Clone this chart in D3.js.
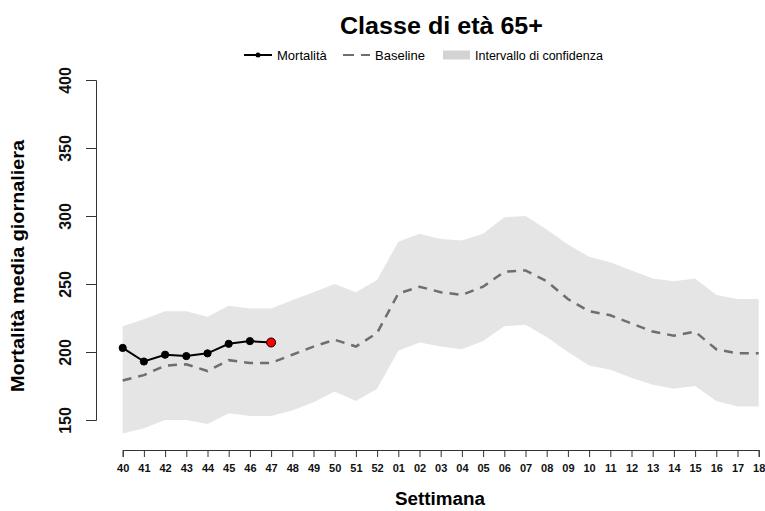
<!DOCTYPE html>
<html>
<head>
<meta charset="utf-8">
<script src="https://cdn.jsdelivr.net/npm/d3@7"></script>
<style>
  body { margin: 0; background: #fff; }
  svg { font-family: "Liberation Sans", Arial, sans-serif; }
</style>
</head>
<body>
<div id="chart"></div>
<script>
// weeks from 40 to 18 of next year
const weeks = ["40","41","42","43","44","45","46","47","48","49","50","51","52",
  "01","02","03","04","05","06","07","08","09","10","11","12","13","14","15","16","17","18"];

const mortalita = [203, 193, 198, 197, 199, 206, 208, 207];

const baseline = [179, 183, 190, 191, 186, 194, 192, 192, 198, 204, 209, 204, 214,
  243, 248, 244, 242, 248, 259, 260, 252, 239, 230, 227, 221, 215, 212, 215, 202, 199, 199];

const upper = [219, 224, 230, 230, 226, 234, 232, 232, 238, 244, 250, 244, 253,
  281, 287, 283, 282, 287, 299, 300, 290, 279, 270, 266, 260, 254, 252, 254, 242, 239, 239];

const lower = [140, 144, 150, 150, 147, 155, 153, 153, 157, 163, 171, 164, 173,
  201, 207, 204, 202, 208, 219, 220, 211, 200, 190, 187, 181, 176, 173, 175, 164, 160, 160];

const yTicks = [150, 200, 250, 300, 350, 400];

const width = 765, height = 511;

const svg = d3.select("#chart").append("svg")
  .attr("width", width)
  .attr("height", height);

const x = d3.scalePoint().domain(weeks).range([122.7, 758.7]);
const y = d3.scaleLinear().domain([150, 400]).range([420, 80]);

// confidence band
const area = d3.area()
  .x((d, i) => x(weeks[i]))
  .y0((d, i) => y(lower[i]))
  .y1(d => y(d));

svg.append("path")
  .datum(upper)
  .attr("d", area)
  .attr("fill", "#e5e5e5");

// baseline
const line = d3.line()
  .x((d, i) => x(weeks[i]))
  .y(d => y(d));

svg.append("path")
  .datum(baseline)
  .attr("d", line)
  .attr("fill", "none")
  .attr("stroke", "#6e6e6e")
  .attr("stroke-width", 2.5)
  .attr("stroke-dasharray", "9,7");

// observed mortality
svg.append("path")
  .datum(mortalita)
  .attr("d", line)
  .attr("fill", "none")
  .attr("stroke", "#000")
  .attr("stroke-width", 2);

svg.selectAll("circle.pt")
  .data(mortalita)
  .enter()
  .append("circle")
  .attr("class", "pt")
  .attr("cx", (d, i) => x(weeks[i]))
  .attr("cy", d => y(d))
  .attr("r", (d, i) => i === mortalita.length - 1 ? 4.5 : 3.6)
  .attr("fill", (d, i) => i === mortalita.length - 1 ? "#ff0000" : "#000")
  .attr("stroke", "#000")
  .attr("stroke-width", 1);

// x axis
const xAxis = svg.append("g")
  .attr("transform", "translate(0,450)")
  .call(d3.axisBottom(x).tickSizeOuter(0).tickSize(7));
xAxis.select(".domain").attr("stroke", "#333");
xAxis.selectAll(".tick line").attr("stroke", "#333");
xAxis.selectAll("text")
  .attr("y", 14)
  .attr("fill", "#111")
  .style("font-size", "11px")
  .style("font-weight", "bold")
  .style("font-family", "Liberation Sans, Arial, sans-serif");

// y axis
const yAxis = svg.append("g")
  .attr("transform", "translate(96,0)")
  .call(d3.axisLeft(y).tickValues(yTicks).tickSizeOuter(0).tickSize(10));
yAxis.select(".domain").attr("stroke", "#333");
yAxis.selectAll(".tick line").attr("stroke", "#333");
yAxis.selectAll("text")
  .attr("transform", "rotate(-90)")
  .attr("x", 0)
  .attr("y", -25)
  .attr("dy", 0)
  .attr("text-anchor", "middle")
  .attr("fill", "#111")
  .style("font-size", "16px")
  .style("font-weight", "bold")
  .style("font-family", "Liberation Sans, Arial, sans-serif");

// titles
svg.append("text")
  .attr("x", 441.5)
  .attr("y", 34)
  .attr("text-anchor", "middle")
  .attr("textLength", 203)
  .attr("lengthAdjust", "spacingAndGlyphs")
  .style("font-size", "23px")
  .style("font-weight", "bold")
  .text("Classe di età 65+");

svg.append("text")
  .attr("x", 440)
  .attr("y", 505)
  .attr("text-anchor", "middle")
  .attr("textLength", 90)
  .attr("lengthAdjust", "spacingAndGlyphs")
  .style("font-size", "18px")
  .style("font-weight", "bold")
  .text("Settimana");

svg.append("text")
  .attr("transform", "translate(24,266) rotate(-90)")
  .attr("text-anchor", "middle")
  .attr("textLength", 252)
  .attr("lengthAdjust", "spacingAndGlyphs")
  .style("font-size", "18px")
  .style("font-weight", "bold")
  .text("Mortalità media giornaliera");

// legend
const leg = svg.append("g").attr("transform", "translate(0,55)");
leg.append("line")
  .attr("x1", 244).attr("x2", 272).attr("y1", 0).attr("y2", 0)
  .attr("stroke", "#000").attr("stroke-width", 2);
leg.append("circle").attr("cx", 258).attr("cy", 0).attr("r", 2.5).attr("fill", "#000");
leg.append("text").attr("x", 277).attr("y", 4.5).style("font-size", "13px").text("Mortalità");

leg.append("line")
  .attr("x1", 343).attr("x2", 370).attr("y1", 0).attr("y2", 0)
  .attr("stroke", "#6e6e6e").attr("stroke-width", 2)
  .attr("stroke-dasharray", "11,7");
leg.append("text").attr("x", 375).attr("y", 4.5).style("font-size", "13px").text("Baseline");

leg.append("rect")
  .attr("x", 443).attr("y", -4.5).attr("width", 27).attr("height", 9)
  .attr("fill", "#d3d3d3");
leg.append("text").attr("x", 475).attr("y", 4.5).style("font-size", "12.5px").text("Intervallo di confidenza");
</script>
</body>
</html>
